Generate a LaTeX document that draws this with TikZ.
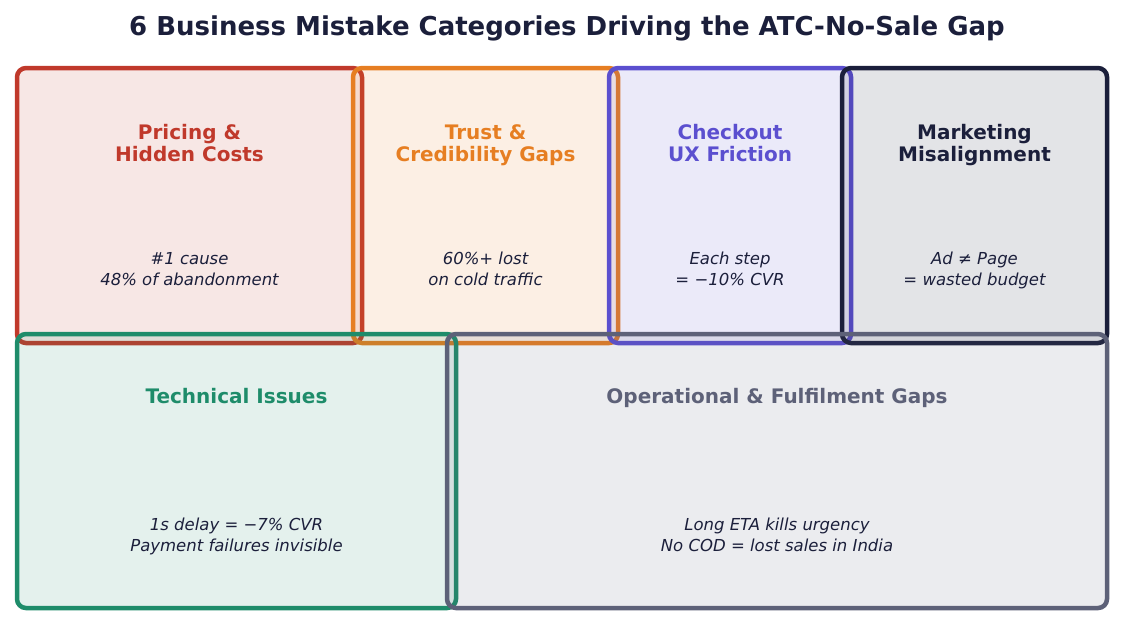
\documentclass[tikz,border=0pt]{standalone}
\usepackage{fontspec}
\setmainfont{DejaVu Sans}
\usepackage{xcolor}
\usepackage{tikz}
\usetikzlibrary{positioning}

\definecolor{pricered}{HTML}{C0392B}
\definecolor{trustorange}{HTML}{E67E22}
\definecolor{uxpurple}{HTML}{5B4FCF}
\definecolor{mktnavy}{HTML}{1B1F3B}
\definecolor{techgreen}{HTML}{1E8C6A}
\definecolor{opsgray}{HTML}{5D6178}

\begin{document}
\begin{tikzpicture}[
        x=1pt, y=-1pt,
        catbox/.style={draw=#1, fill=#1, fill opacity=0.12, draw opacity=1, line width=4.5pt, rounded corners=9pt, inner sep=0pt},
        cattitle/.style={text=#1, font=\fontsize{20}{22}\selectfont\bfseries, align=center, inner sep=0pt, text depth=5pt},
        catnote/.style={text=mktnavy, font=\fontsize{16.5}{21}\selectfont\itshape, align=center, inner sep=0pt, text depth=4pt}
    ]
        \useasboundingbox (0,0) rectangle (1134,625);

        \node[font=\fontsize{26}{30}\selectfont\bfseries, text=mktnavy] (heading) at (567,28) {6 Business Mistake Categories Driving the ATC-No-Sale Gap};

        % top row
        \node[catbox=pricered, minimum width=345pt, minimum height=275pt] (pricing) at (189.5,205.5) {};
        \node[catbox=trustorange, minimum width=265pt, minimum height=275pt] (trust) at (485.5,205.5) {};
        \node[catbox=uxpurple, minimum width=242pt, minimum height=275pt] (checkout) at (730,205.5) {};
        \node[catbox=mktnavy, minimum width=265pt, minimum height=275pt] (marketing) at (974.5,205.5) {};

        % bottom row
        \node[catbox=techgreen, minimum width=439pt, minimum height=274pt] (technical) at (236.5,471) {};
        \node[catbox=opsgray, minimum width=660pt, minimum height=274pt] (operational) at (777,471) {};

        % labels
        \node[cattitle=pricered] (pricingT) at ([yshift=-80pt]pricing.north) {Pricing \&\\Hidden Costs};
        \node[cattitle=trustorange] (trustT) at ([yshift=-80pt]trust.north) {Trust \&\\Credibility Gaps};
        \node[cattitle=uxpurple] (checkoutT) at ([yshift=-80pt]checkout.north) {Checkout\\UX Friction};
        \node[cattitle=mktnavy] (marketingT) at ([yshift=-80pt]marketing.north) {Marketing\\Misalignment};
        \node[cattitle=techgreen] (technicalT) at ([yshift=-67pt]technical.north) {Technical Issues};
        \node[cattitle=opsgray] (operationalT) at ([yshift=-67pt]operational.north) {Operational \& Fulfilment Gaps};

        \node[catnote] (pricingN) at ([yshift=-205pt]pricing.north) {\#1 cause\\48\% of abandonment};
        \node[catnote] (trustN) at ([yshift=-205pt]trust.north) {60\%+ lost\\on cold traffic};
        \node[catnote] (checkoutN) at ([yshift=-205pt]checkout.north) {Each step\\= −10\% CVR};
        \node[catnote] (marketingN) at ([yshift=-205pt]marketing.north) {Ad ≠ Page\\= wasted budget};
        \node[catnote] (technicalN) at ([yshift=-205pt]technical.north) {1s delay = −7\% CVR\\Payment failures invisible};
        \node[catnote] (operationalN) at ([yshift=-205pt]operational.north) {Long ETA kills urgency\\No COD = lost sales in India};
    \end{tikzpicture}
\end{document}
